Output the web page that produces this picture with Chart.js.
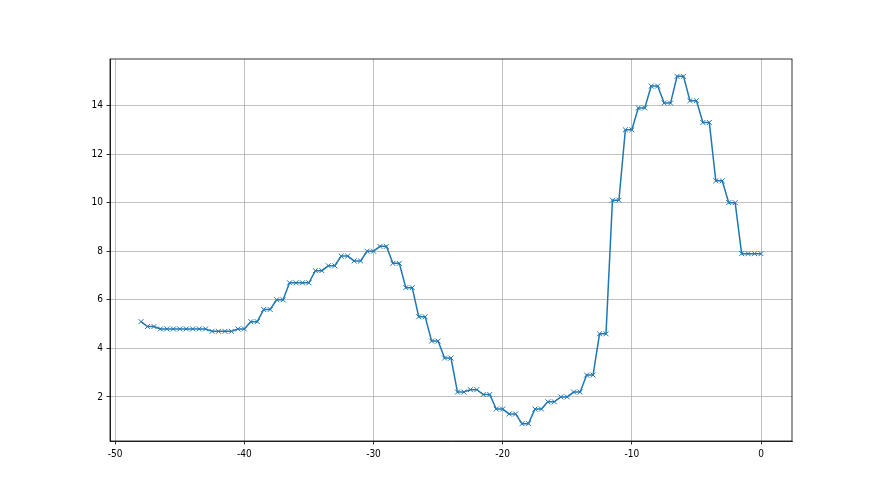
<!DOCTYPE html>
<html>
<head>
<meta charset="utf-8">
<script src="https://cdn.jsdelivr.net/npm/chart.js@4"></script>
<style>
  body { margin: 0; background: #fff; }
  canvas { display: block; }
</style>
</head>
<body>
<canvas id="lineChart" width="880" height="495"></canvas>
<script>
// x positions (half steps)
const xValues = [
  -48, -47.5, -47, -46.5, -46, -45.5, -45, -44.5, -44, -43.5, -43, -42.5, -42,
  -41.5, -41, -40.5, -40, -39.5, -39, -38.5, -38, -37.5, -37, -36.5, -36,
  -35.5, -35, -34.5, -34, -33.5, -33, -32.5, -32, -31.5, -31, -30.5, -30,
  -29.5, -29, -28.5, -28, -27.5, -27, -26.5, -26, -25.5, -25, -24.5, -24,
  -23.5, -23, -22.5, -22, -21.5, -21, -20.5, -20, -19.5, -19, -18.5, -18,
  -17.5, -17, -16.5, -16, -15.5, -15, -14.5, -14, -13.5, -13, -12.5, -12,
  -11.5, -11, -10.5, -10, -9.5, -9, -8.5, -8, -7.5, -7, -6.5, -6,
  -5.5, -5, -4.5, -4, -3.5, -3, -2.5, -2, -1.5, -1, -0.5, 0
];

const yValues = [
  5.1, 4.9, 4.9, 4.8, 4.8, 4.8, 4.8, 4.8, 4.8, 4.8, 4.8, 4.7, 4.7,
  4.7, 4.7, 4.8, 4.8, 5.1, 5.1, 5.6, 5.6, 6.0, 6.0, 6.7, 6.7,
  6.7, 6.7, 7.2, 7.2, 7.4, 7.4, 7.8, 7.8, 7.6, 7.6, 8.0, 8.0,
  8.2, 8.2, 7.5, 7.5, 6.5, 6.5, 5.3, 5.3, 4.3, 4.3, 3.6, 3.6,
  2.2, 2.2, 2.3, 2.3, 2.1, 2.1, 1.5, 1.5, 1.3, 1.3, 0.9, 0.9,
  1.5, 1.5, 1.8, 1.8, 2.0, 2.0, 2.2, 2.2, 2.9, 2.9, 4.6, 4.6,
  10.1, 10.1, 13.0, 13.0, 13.9, 13.9, 14.8, 14.8, 14.1, 14.1, 15.2, 15.2,
  14.2, 14.2, 13.3, 13.3, 10.9, 10.9, 10.0, 10.0, 7.9, 7.9, 7.9, 7.9
];

const xTicks = [-50, -40, -30, -20, -10, 0];
const yTicks = [2, 4, 6, 8, 10, 12, 14];

const points = xValues.map((x, i) => ({ x: x, y: yValues[i] }));

// draw the full box around the plot like matplotlib spines
const boxPlugin = {
  id: 'box',
  afterDraw(chart) {
    const a = chart.chartArea;
    const c = chart.ctx;
    c.save();
    c.strokeStyle = '#000';
    c.lineWidth = 0.8;
    c.strokeRect(a.left, a.top, a.right - a.left, a.bottom - a.top);
    c.restore();
  }
};

const tickFont = { family: "'Liberation Sans Narrow', 'DejaVu Sans Condensed', 'DejaVu Sans'", size: 10 };

const ctx = document.getElementById('lineChart').getContext('2d');
new Chart(ctx, {
  type: 'line',
  data: {
    datasets: [{
      data: points,
      borderColor: '#1f77b4',
      borderWidth: 1.5,
      pointStyle: 'crossRot',
      pointRadius: 3.5,
      pointBorderWidth: 1,
      pointBorderColor: '#1f77b4',
      pointBackgroundColor: '#1f77b4',
      tension: 0,
      fill: false
    }]
  },
  options: {
    responsive: false,
    animation: false,
    layout: { padding: { left: 0, top: 59, right: 88, bottom: 0 } },
    plugins: { legend: { display: false }, tooltip: { enabled: false } },
    scales: {
      x: {
        type: 'linear',
        min: -50.4,
        max: 2.4,
        afterBuildTicks: s => { s.ticks = xTicks.map(v => ({ value: v })); },
        afterFit: s => { s.height = 54; },
        grid: { color: '#b0b0b0', lineWidth: 0.8, tickColor: '#000', tickLength: 3.5 },
        border: { color: '#000', width: 0.8 },
        ticks: {
          padding: 3.5,
          color: '#000',
          maxRotation: 0,
          font: tickFont,
          callback: v => String(v)
        }
      },
      y: {
        type: 'linear',
        min: 0.185,
        max: 15.915,
        afterBuildTicks: s => { s.ticks = yTicks.map(v => ({ value: v })); },
        afterFit: s => { s.width = 110; },
        grid: { color: '#b0b0b0', lineWidth: 0.8, tickColor: '#000', tickLength: 3.5 },
        border: { color: '#000', width: 0.8 },
        ticks: {
          padding: 3.5,
          color: '#000',
          font: tickFont,
          callback: v => String(v)
        }
      }
    }
  },
  plugins: [boxPlugin]
});
</script>
</body>
</html>
